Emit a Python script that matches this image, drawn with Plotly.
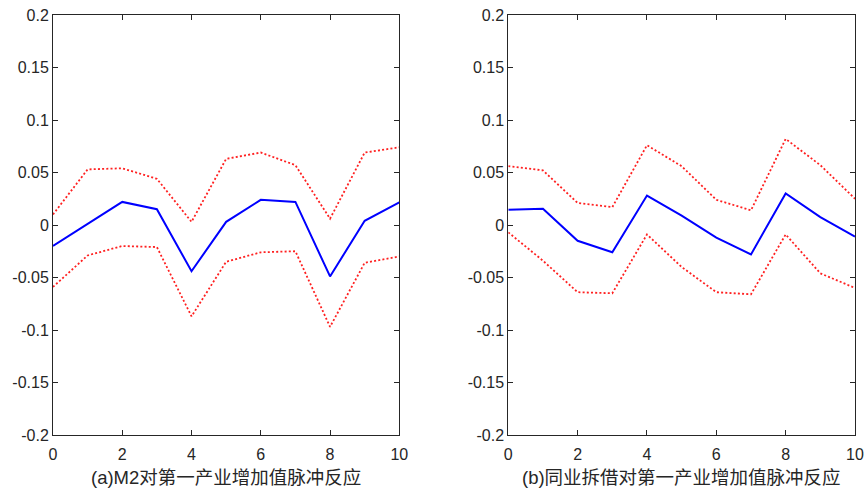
import plotly.graph_objects as go

periods = list(range(11))

a_irf = [-0.020, 0.001, 0.022, 0.015, -0.044, 0.003, 0.024, 0.022, -0.049, 0.004, 0.0215]
a_upper = [0.010, 0.053, 0.054, 0.044, 0.003, 0.063, 0.069, 0.057, 0.006, 0.069, 0.074]
a_lower = [-0.059, -0.029, -0.020, -0.021, -0.087, -0.035, -0.026, -0.025, -0.097, -0.036, -0.030]

b_irf = [0.0146, 0.0155, -0.015, -0.026, 0.028, 0.009, -0.012, -0.028, 0.030, 0.0075, -0.011]
b_upper = [0.056, 0.052, 0.021, 0.017, 0.076, 0.056, 0.024, 0.014, 0.082, 0.057, 0.025]
b_lower = [-0.007, -0.034, -0.064, -0.065, -0.009, -0.040, -0.064, -0.066, -0.009, -0.046, -0.060]

x_ticks = [0, 2, 4, 6, 8, 10]
y_ticks = [-0.2, -0.15, -0.1, -0.05, 0, 0.05, 0.1, 0.15, 0.2]
y_tick_labels = ["-0.2", "-0.15", "-0.1", "-0.05", "0", "0.05", "0.1", "0.15", "0.2"]
titles = ["(a)M2对第一产业增加值脉冲反应", "(b)同业拆借对第一产业增加值脉冲反应"]

fig = go.Figure()
panels = [(a_irf, a_upper, a_lower, "x", "y"), (b_irf, b_upper, b_lower, "x2", "y2")]
for irf, up, lo, xa, ya in panels:
    for band in (up, lo):
        fig.add_trace(go.Scatter(x=periods, y=band, mode="lines", xaxis=xa, yaxis=ya,
                                 line=dict(color="#ff2020", width=1.8, dash="2px,2.2px"),
                                 showlegend=False, hoverinfo="skip"))
    fig.add_trace(go.Scatter(x=periods, y=irf, mode="lines", xaxis=xa, yaxis=ya,
                             line=dict(color="#0000ff", width=2),
                             showlegend=False))

axis_common = dict(showline=True, mirror="ticks", linecolor="#262626", linewidth=1,
                   ticks="inside", ticklen=5, tickcolor="#262626", showgrid=False,
                   zeroline=False, automargin=False, ticklabeloverflow="allow",
                   tickfont=dict(family="Liberation Sans, Arial", size=16, color="#262626"))

fig.update_layout(
    width=864, height=488,
    margin=dict(l=53, r=9, t=15, b=53),
    paper_bgcolor="white", plot_bgcolor="white",
    xaxis=dict(domain=[0.0, 0.4318], range=[0, 10], tickvals=x_ticks,
               ticklabelstandoff=5, **axis_common),
    xaxis2=dict(domain=[0.5677, 1.0], range=[0, 10], tickvals=x_ticks,
                ticklabelstandoff=5, **axis_common),
    yaxis=dict(domain=[0, 1], range=[-0.2, 0.2], tickvals=y_ticks,
               ticktext=y_tick_labels, anchor="x", **axis_common),
    yaxis2=dict(domain=[0, 1], range=[-0.2, 0.2], tickvals=y_ticks,
                ticktext=y_tick_labels, anchor="x2", **axis_common),
)

for i, t in enumerate(titles):
    xref = "x domain" if i == 0 else "x2 domain"
    fig.add_annotation(text=t, xref=xref, yref="paper", x=0.5, y=-(477 - 435) / 420,
                       yanchor="middle", showarrow=False,
                       font=dict(family="Liberation Sans, Noto Sans CJK SC", size=18.5, color="#262626"))

fig.write_html("out.html", config={"displayModeBar": False},
               post_script="document.body.style.margin='0';")
